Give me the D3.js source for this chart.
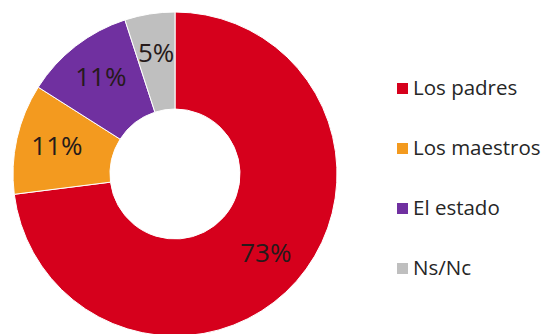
<!DOCTYPE html>
<html lang="es">
<head>
    <meta charset="UTF-8">
    <title>Donut</title>
    <script src="https://d3js.org/d3.v7.min.js"></script>
    <style>
        body { margin: 0; background: #fff; }
        svg { display: block; }
    </style>
</head>
<body>
    <svg id="chart" width="550" height="334"></svg>

    <script>
        // chart data
        const categories = ["Los padres", "Los maestros", "El estado", "Ns/Nc"];
        const values = [73, 11, 11, 5];
        const colors = ["#d6001c", "#f39a1f", "#7030a0", "#bfbfbf"];

        const width = 550, height = 334;
        const cx = 175, cy = 174;
        const outerR = 162, innerR = 65;

        const svg = d3.select("#chart")
            .attr("width", width)
            .attr("height", height);

        const data = categories.map((c, i) => ({ name: c, value: values[i], color: colors[i] }));

        const pie = d3.pie()
            .value(d => d.value)
            .sort(null);

        const arc = d3.arc()
            .innerRadius(innerR)
            .outerRadius(outerR);

        // labels sit a bit outside the mid ring
        const labelArc = d3.arc()
            .innerRadius(121)
            .outerRadius(121);

        const g = svg.append("g")
            .attr("transform", `translate(${cx},${cy})`);

        const arcs = pie(data);

        g.selectAll("path")
            .data(arcs)
            .enter()
            .append("path")
            .attr("d", arc)
            .style("fill", d => d.data.color)
            .style("stroke", "#fff")
            .style("stroke-width", 1);

        g.selectAll("text")
            .data(arcs)
            .enter()
            .append("text")
            .attr("transform", d => `translate(${labelArc.centroid(d)})`)
            .attr("text-anchor", "middle")
            .attr("dy", "0.3em")
            .style("font-family", "'Open Sans', sans-serif")
            .style("font-size", "26px")
            .style("fill", "#261a1a")
            .text(d => d.data.value + "%");

        // legend
        const legend = svg.append("g")
            .attr("transform", "translate(397,88)");

        const rows = legend.selectAll("g")
            .data(data)
            .enter()
            .append("g")
            .attr("transform", (d, i) => `translate(0,${i * 60})`);

        rows.append("rect")
            .attr("x", 0)
            .attr("y", -5)
            .attr("width", 11)
            .attr("height", 11)
            .style("fill", d => d.color);

        rows.append("text")
            .attr("x", 16)
            .attr("dy", "0.36em")
            .style("font-family", "'Open Sans', sans-serif")
            .style("font-size", "20.5px")
            .style("fill", "#262626")
            .text(d => d.name);
    </script>
</body>
</html>
